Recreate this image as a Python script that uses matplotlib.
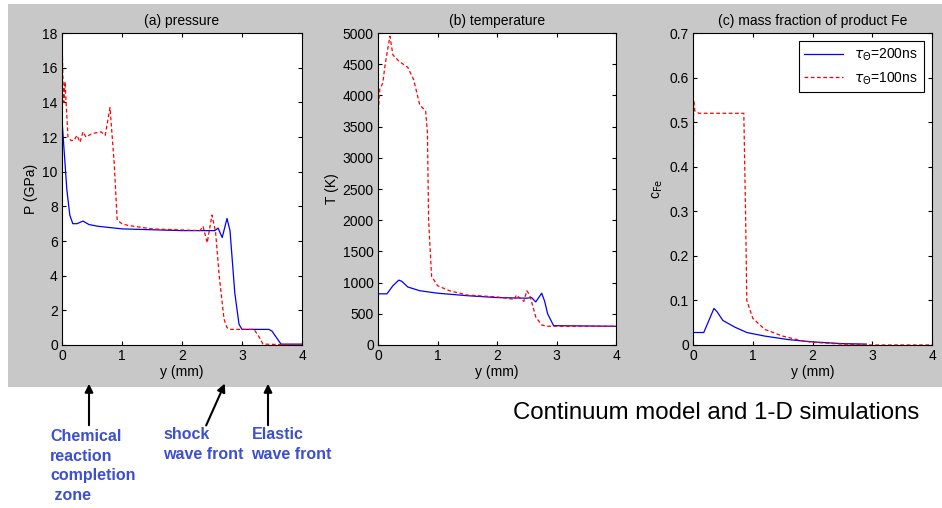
import matplotlib
matplotlib.use('Agg')
import matplotlib.pyplot as plt
from matplotlib.patches import Rectangle, FancyArrowPatch
from matplotlib.ticker import FuncFormatter

plt.rcParams['font.family'] = ['Liberation Sans', 'DejaVu Sans']

# (a) pressure, GPa
p_blue_x = [0, 0.03, 0.08, 0.13, 0.18, 0.25, 0.35, 0.45, 0.6, 1.0, 1.5, 2.0, 2.5, 2.55, 2.6, 2.67, 2.75, 2.8,
            2.88, 2.95, 3.0, 3.45, 3.5, 3.6, 3.65, 4.0]
p_blue_y = [13, 11.5, 9.0, 7.5, 7.0, 7.0, 7.15, 6.95, 6.85, 6.7, 6.65, 6.6, 6.6, 6.6, 6.75, 6.2, 7.3, 6.6,
            3.0, 1.2, 0.9, 0.9, 0.8, 0.3, 0.05, 0.05]
p_red_x = [0.005, 0.015, 0.03, 0.05, 0.1, 0.15, 0.2, 0.25, 0.3, 0.35, 0.4, 0.5, 0.65, 0.72, 0.8, 0.87, 0.92, 1.0,
           1.1, 1.5, 2.3, 2.35, 2.42, 2.5, 2.56, 2.62, 2.7, 2.75, 2.8, 3.2, 3.28, 3.35, 4.0]
p_red_y = [17, 15.5, 14, 15.2, 12, 11.8, 11.8, 12.1, 11.7, 12.3, 12.0, 12.2, 12.3, 12.1, 13.7, 10.5, 7.2, 7.0,
           6.9, 6.7, 6.6, 6.85, 5.9, 7.5, 6.5, 4.0, 1.5, 1.0, 0.9, 0.9, 0.5, 0.05, 0.0]

# (b) temperature, K
t_blue_x = [0, 0.15, 0.25, 0.35, 0.4, 0.5, 0.7, 1.0, 1.5, 2.0, 2.5, 2.58, 2.65, 2.75, 2.8, 2.85, 2.95, 4.0]
t_blue_y = [820, 820, 950, 1040, 1020, 930, 870, 830, 790, 760, 750, 760, 690, 830, 700, 500, 310, 300]
t_red_x = [0.005, 0.03, 0.08, 0.12, 0.2, 0.25, 0.35, 0.5, 0.6, 0.7, 0.8, 0.83, 0.85, 0.9, 1.0, 1.2, 1.5, 2.0,
           2.3, 2.32, 2.45, 2.5, 2.55, 2.65, 2.75, 2.85, 4.0]
t_red_y = [3750, 4100, 4200, 4500, 4950, 4650, 4550, 4450, 4250, 3850, 3750, 3400, 2000, 1100, 950, 870, 800,
           770, 730, 800, 700, 870, 800, 450, 320, 300, 300]

# (c) mass fraction of product Fe
c_blue_x = [0, 0.18, 0.35, 0.4, 0.5, 0.7, 0.9, 1.2, 1.6, 2.0, 2.5, 2.9]
c_blue_y = [0.028, 0.028, 0.082, 0.075, 0.055, 0.04, 0.028, 0.02, 0.012, 0.007, 0.003, 0.002]
c_red_x = [0.005, 0.01, 0.03, 0.1, 0.85, 0.88, 0.9, 1.0, 1.2, 1.5, 1.8, 2.0, 2.5, 3.0, 4.0]
c_red_y = [0.40, 0.55, 0.525, 0.52, 0.52, 0.29, 0.10, 0.06, 0.035, 0.02, 0.01, 0.006, 0.002, 0.0, 0.0]

labels = [r'$\tau_{\Theta}$=200ns', r'$\tau_{\Theta}$=100ns']

fig = plt.figure(figsize=(9.42, 5.08), dpi=100)
fig.add_artist(Rectangle((0.0085, 0.238), 0.9915, 0.754, transform=fig.transFigure,
                         facecolor='#c8c8c8', edgecolor='none', zorder=-10))

panels = [
    (0.0658, 0.2548, p_blue_x, p_blue_y, p_red_x, p_red_y, (0, 18), range(0, 19, 2), 'P (GPa)', '(a) pressure'),
    (0.4013, 0.2527, t_blue_x, t_blue_y, t_red_x, t_red_y, (0, 5000), range(0, 5001, 500), 'T (K)', '(b) temperature'),
    (0.7357, 0.2537, c_blue_x, c_blue_y, c_red_x, c_red_y, (0, 0.7), [i / 10 for i in range(8)],
     r'c$_{\mathrm{Fe}}$', '(c) mass fraction of product Fe'),
]

axes = []
for left, width, bx, by, rx, ry, ylim, yticks, ylabel, title in panels:
    ax = fig.add_axes([left, 0.3209, width, 0.614])
    ax.plot(bx, by, color='blue', lw=0.9, label=labels[0])
    ax.plot(rx, ry, color='red', lw=0.9, dashes=(3, 2), label=labels[1])
    ax.set_xlim(0, 4)
    ax.set_ylim(*ylim)
    ax.set_xticks([0, 1, 2, 3, 4])
    ax.set_yticks(list(yticks))
    ax.yaxis.set_major_formatter(FuncFormatter(lambda v, p: '%g' % round(v, 3)))
    ax.tick_params(direction='in', top=True, right=True, labelsize=10, length=3, pad=3)
    ax.set_xlabel('y (mm)', fontsize=10, labelpad=1)
    ax.set_ylabel(ylabel, fontsize=10, labelpad=3)
    ax.set_title(title, fontsize=10, pad=6)
    for s in ax.spines.values():
        s.set_linewidth(0.8)
    axes.append(ax)

leg = axes[2].legend(loc='upper right', fontsize=10, fancybox=False, edgecolor='black',
                     framealpha=1, handlelength=2.8, borderaxespad=0.6)
leg.get_frame().set_linewidth(0.8)

# annotations under the figure
blue_txt = '#3c4fd0'
fig.text(0.053, 1 - 429 / 508, 'Chemical\nreaction\ncompletion\n zone', color=blue_txt, fontsize=11.5,
         fontweight='bold', va='top', ha='left', linespacing=1.38)
fig.text(0.173, 1 - 427 / 508, 'shock\nwave front', color=blue_txt, fontsize=11.5,
         fontweight='bold', va='top', ha='left', linespacing=1.38)
fig.text(0.267, 1 - 427 / 508, 'Elastic\nwave front', color=blue_txt, fontsize=11.5,
         fontweight='bold', va='top', ha='left', linespacing=1.38)
fig.text(0.545, 1 - 413 / 508, 'Continuum model and 1-D simulations', fontsize=17.3, va='center', ha='left')

arrows = [((89, 428), (89, 381)), ((205, 428), (226, 381)), ((268, 428), (268, 381))]
for (x0, y0), (x1, y1) in arrows:
    fig.add_artist(FancyArrowPatch(
        (x0 / 942, 1 - y0 / 508), (x1 / 942, 1 - y1 / 508), transform=fig.transFigure,
        arrowstyle='-|>', mutation_scale=12, color='black', lw=1.5))

fig.savefig('out.png', dpi=100)
